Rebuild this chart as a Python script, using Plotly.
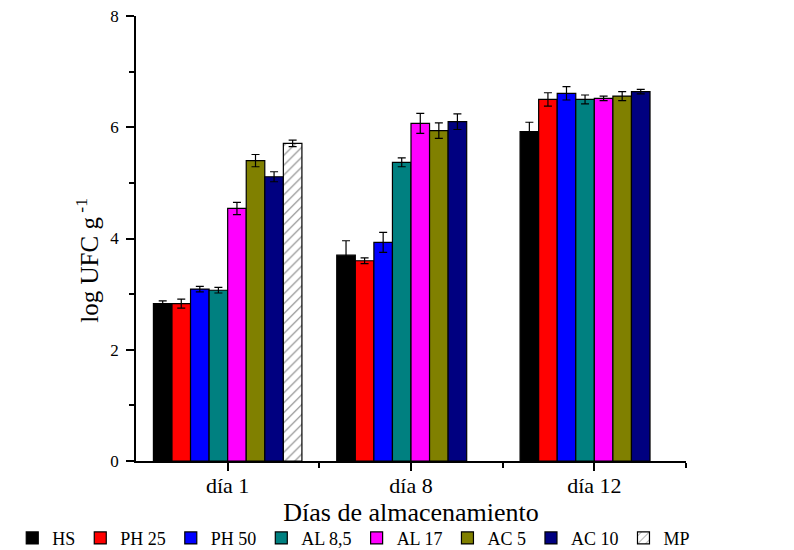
import plotly.graph_objects as go

categories = ["día 1", "día 8", "día 12"]
series_names = ["HS", "PH 25", "PH 50", "AL 8,5", "AL 17", "AC 5", "AC 10", "MP"]
colors = ["#000000", "#FF0000", "#0000FF", "#008080", "#FF00FF", "#808000", "#000080", "#FFFFFF"]

HS = [2.83, 3.70, 5.92]
PH25 = [2.83, 3.60, 6.50]
PH50 = [3.09, 3.93, 6.61]
AL85 = [3.07, 5.37, 6.50]
AL17 = [4.54, 6.07, 6.52]
AC5 = [5.40, 5.94, 6.56]
AC10 = [5.11, 6.10, 6.64]
MP = [5.71, None, None]

HS_err = [0.05, 0.26, 0.17]
PH25_err = [0.08, 0.05, 0.12]
PH50_err = [0.05, 0.18, 0.12]
AL85_err = [0.05, 0.08, 0.08]
AL17_err = [0.11, 0.18, 0.04]
AC5_err = [0.11, 0.14, 0.08]
AC10_err = [0.09, 0.14, 0.04]
MP_err = [0.06, None, None]

values = [HS, PH25, PH50, AL85, AL17, AC5, AC10, MP]
errors = [HS_err, PH25_err, PH50_err, AL85_err, AL17_err, AC5_err, AC10_err, MP_err]

font_family = "Liberation Serif"
fig = go.Figure()
x_idx = list(range(len(categories)))
for name, col, vals, errs in zip(series_names, colors, values, errors):
    marker = dict(color=col, line=dict(color="#000000", width=1.2))
    if name == "MP":
        marker["pattern"] = dict(shape="/", fgcolor="#000000", bgcolor="#FFFFFF",
                                 size=7, solidity=0.15)
    fig.add_trace(go.Bar(
        name=name, x=x_idx, y=vals,
        marker=marker,
        error_y=dict(type="data", array=errs, visible=True,
                     color="#000000", thickness=1.2, width=4),
    ))

fig.update_layout(
    width=794, height=550,
    barmode="group", bargap=0.19, bargroupgap=0,
    plot_bgcolor="white", paper_bgcolor="white",
    margin=dict(l=136, r=108, t=16, b=89, autoexpand=False),
    font=dict(family=font_family, color="#000000", size=18),
    showlegend=True,
    legend=dict(orientation="h", x=-0.225, xanchor="left", y=-0.215, yanchor="bottom",
                font=dict(family=font_family, size=18), traceorder="normal",
                itemwidth=30, tracegroupgap=0, bgcolor="rgba(0,0,0,0)"),
)
fig.update_xaxes(
    automargin=False,
    range=[-0.5, 2.5], tickmode="array", tickvals=x_idx, ticktext=categories,
    showline=True, linecolor="#000000", linewidth=1.5, mirror=False,
    ticks="outside", ticklen=8, tickwidth=1.5, tickcolor="#000000",
    tickfont=dict(size=22, family=font_family), ticklabelstandoff=-4,
    minor=dict(tickmode="array", tickvals=[0.5, 1.5, 2.5], ticks="outside",
               ticklen=5, tickwidth=1.5, tickcolor="#000000"),
    showgrid=False, zeroline=False,
    title=dict(text="Días de almacenamiento", font=dict(size=26, family=font_family), standoff=0),
)
fig.update_yaxes(
    automargin=False,
    range=[0, 8], tickvals=[0, 2, 4, 6, 8],
    showline=True, linecolor="#000000", linewidth=1.5,
    ticks="outside", ticklen=8, tickwidth=1.5, tickcolor="#000000",
    tickfont=dict(size=17, family=font_family), ticklabelstandoff=4,
    minor=dict(tickvals=[1, 3, 5, 7], ticks="outside", ticklen=5,
               tickwidth=1.5, tickcolor="#000000"),
    showgrid=False, zeroline=False,
    title=dict(text="log UFC g<sup> -1" + "&nbsp;" * 10 + "</sup>",
               font=dict(size=25, family=font_family), standoff=5),
)

fig.write_html("out.html", config={"displayModeBar": False},
               post_script="document.body.style.margin='0px';")
